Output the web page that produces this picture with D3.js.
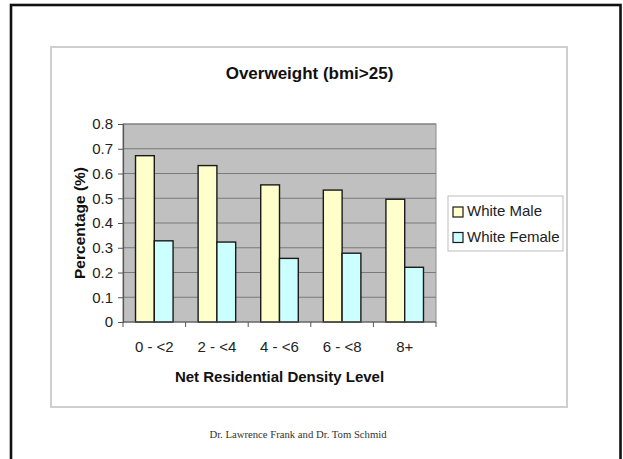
<!DOCTYPE html>
<html>
<head>
<meta charset="utf-8">
<script src="https://cdn.jsdelivr.net/npm/d3@7"></script>
<style>
  html, body { margin: 0; padding: 0; background: #ffffff; }
  svg { display: block; }
</style>
</head>
<body>
<svg id="chart" width="623" height="459"></svg>
<script>
// Overweight share by net residential density level
const categories = ["0 - <2", "2 - <4", "4 - <6", "6 - <8", "8+"];
const seriesNames = ["White Male", "White Female"];
const whiteMale = [0.672, 0.632, 0.554, 0.533, 0.496];
const whiteFemale = [0.328, 0.323, 0.257, 0.278, 0.221];
const yTicks = [0, 0.1, 0.2, 0.3, 0.4, 0.5, 0.6, 0.7, 0.8];
const titleText = "Overweight (bmi>25)";
const xTitleText = "Net Residential Density Level";
const yTitleText = "Percentage (%)";
const footerText = "Dr. Lawrence Frank and Dr. Tom Schmid";

const seriesColors = ["#ffffcc", "#ccffff"];
const sans = "'Liberation Sans', Arial, sans-serif";
const serif = "'Liberation Serif', 'Times New Roman', serif";

const svg = d3.select("#chart");

// slide frame
svg.append("rect")
  .attr("x", 11).attr("y", 5)
  .attr("width", 609.5).attr("height", 480)
  .attr("fill", "none")
  .attr("stroke", "#111")
  .attr("stroke-width", 2.6);

// chart container
svg.append("rect")
  .attr("x", 51).attr("y", 47)
  .attr("width", 516).attr("height", 360)
  .attr("fill", "#fff")
  .attr("stroke", "#cfcfcf")
  .attr("stroke-width", 2);

const plot = { left: 123, top: 124, right: 436, bottom: 322 };

const x = d3.scaleBand()
  .domain(categories)
  .range([plot.left, plot.right])
  .paddingInner(0).paddingOuter(0);

const y = d3.scaleLinear()
  .domain([0, 0.8])
  .range([plot.bottom, plot.top]);

const barW = x.bandwidth() * 0.3;

// plot background
svg.append("rect")
  .attr("x", plot.left).attr("y", plot.top)
  .attr("width", plot.right - plot.left)
  .attr("height", plot.bottom - plot.top)
  .attr("fill", "#c0c0c0")
  .attr("stroke", "#8c8c8c")
  .attr("stroke-width", 1);

// gridlines
svg.append("g")
  .selectAll("line")
  .data(yTicks.filter(d => d > 0))
  .join("line")
  .attr("x1", plot.left).attr("x2", plot.right)
  .attr("y1", d => y(d)).attr("y2", d => y(d))
  .attr("stroke", "#7a7a7a")
  .attr("stroke-width", 1.2);

// bars
const data = categories.map((c, i) => ({ cat: c, vals: [whiteMale[i], whiteFemale[i]] }));
const groups = svg.append("g").selectAll("g")
  .data(data)
  .join("g")
  .attr("transform", d => `translate(${x(d.cat) + x.bandwidth() / 2 - barW},0)`);

groups.selectAll("rect")
  .data(d => d.vals)
  .join("rect")
  .attr("x", (d, i) => i * barW)
  .attr("y", d => y(d))
  .attr("width", barW)
  .attr("height", d => y(0) - y(d))
  .attr("fill", (d, i) => seriesColors[i])
  .attr("stroke", "#1a1a1a")
  .attr("stroke-width", 1.4);

// y axis
const yAxis = svg.append("g")
  .attr("transform", `translate(${plot.left},0)`)
  .call(d3.axisLeft(y).tickValues(yTicks).tickSize(5).tickPadding(5)
    .tickFormat(d => d === 0 ? "0" : d3.format(".1f")(d)));
yAxis.select(".domain").attr("stroke", "#555").attr("stroke-width", 1.2);
yAxis.selectAll(".tick line").attr("stroke", "#555");
yAxis.selectAll(".tick text")
  .attr("font-family", sans).attr("font-size", 15).attr("fill", "#222");

// x axis with ticks between categories
const xAxisG = svg.append("g")
  .attr("transform", `translate(0,${plot.bottom})`);
xAxisG.append("line")
  .attr("x1", plot.left).attr("x2", plot.right)
  .attr("y1", 0).attr("y2", 0)
  .attr("stroke", "#555").attr("stroke-width", 1.2);
const boundaries = categories.map(c => x(c)).concat([plot.right]);
xAxisG.selectAll("line.tk")
  .data(boundaries)
  .join("line")
  .attr("class", "tk")
  .attr("x1", d => d).attr("x2", d => d)
  .attr("y1", 0).attr("y2", 5)
  .attr("stroke", "#555");
xAxisG.selectAll("text")
  .data(categories)
  .join("text")
  .attr("x", d => x(d) + x.bandwidth() / 2)
  .attr("y", 30)
  .attr("text-anchor", "middle")
  .attr("font-family", sans).attr("font-size", 15).attr("fill", "#222")
  .text(d => d);

// titles
svg.append("text")
  .attr("x", 309.5).attr("y", 79)
  .attr("text-anchor", "middle")
  .attr("font-family", sans).attr("font-size", 17).attr("font-weight", "bold")
  .attr("fill", "#111")
  .text(titleText);

svg.append("text")
  .attr("x", (plot.left + plot.right) / 2).attr("y", 382)
  .attr("text-anchor", "middle")
  .attr("font-family", sans).attr("font-size", 15).attr("font-weight", "bold")
  .attr("fill", "#111")
  .text(xTitleText);

svg.append("text")
  .attr("transform", `translate(85,${(plot.top + plot.bottom) / 2}) rotate(-90)`)
  .attr("text-anchor", "middle")
  .attr("font-family", sans).attr("font-size", 15.5).attr("font-weight", "bold")
  .attr("fill", "#111")
  .text(yTitleText);

// legend
const legend = svg.append("g");
legend.append("rect")
  .attr("x", 448).attr("y", 196)
  .attr("width", 115).attr("height", 55)
  .attr("fill", "#fff")
  .attr("stroke", "#bdbdbd").attr("stroke-width", 1);
const items = legend.selectAll("g")
  .data(seriesNames)
  .join("g")
  .attr("transform", (d, i) => `translate(453,${207 + i * 25.5})`);
items.append("rect")
  .attr("width", 10).attr("height", 10)
  .attr("fill", (d, i) => seriesColors[i])
  .attr("stroke", "#1a1a1a").attr("stroke-width", 1.2);
items.append("text")
  .attr("x", 14).attr("y", 9)
  .attr("font-family", sans).attr("font-size", 15).attr("fill", "#222")
  .text(d => d);

// footer credit
svg.append("text")
  .attr("x", 298).attr("y", 438)
  .attr("text-anchor", "middle")
  .attr("font-family", serif).attr("font-size", 10.7).attr("fill", "#333")
  .text(footerText);
</script>
</body>
</html>
